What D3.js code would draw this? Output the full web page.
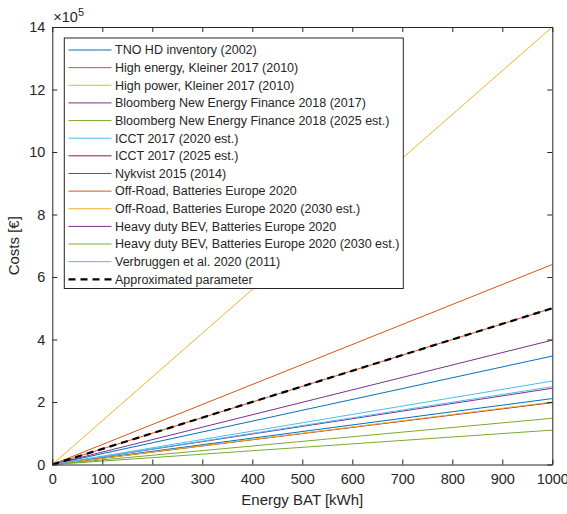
<!DOCTYPE html>
<html>
<head>
<meta charset="utf-8">
<script src="https://cdn.jsdelivr.net/npm/d3@7"></script>
<style>
  body { margin: 0; background: #fff; }
  svg text { font-family: "Liberation Sans", Arial, Helvetica, sans-serif; fill: #262626; }
</style>
</head>
<body>
<svg id="chart" width="567" height="514"></svg>
<script>
// ---- data ----
const seriesNames = [
  "TNO HD inventory (2002)",
  "High energy, Kleiner 2017 (2010)",
  "High power, Kleiner 2017 (2010)",
  "Bloomberg New Energy Finance 2018 (2017)",
  "Bloomberg New Energy Finance 2018 (2025 est.)",
  "ICCT 2017 (2020 est.)",
  "ICCT 2017 (2025 est.)",
  "Nykvist 2015 (2014)",
  "Off-Road, Batteries Europe 2020",
  "Off-Road, Batteries Europe 2020 (2030 est.)",
  "Heavy duty BEV, Batteries Europe 2020",
  "Heavy duty BEV, Batteries Europe 2020 (2030 est.)",
  "Verbruggen et al. 2020 (2011)"
];
// specific cost in €/kWh (cost at 1000 kWh / 1000)
const specificCost = [211, 640, 1400, 244, 110, 249, 198, 347, 500, 200, 398, 148, 267];
const approxName = "Approximated parameter";
const approxCost = 500;
const energy = [0, 1000];               // kWh
const xTicks = [0,100,200,300,400,500,600,700,800,900,1000];
const yTicks = [0,2,4,6,8,10,12,14];    // ×10^5
const colors = ["#0072BD","#D95319","#EDB120","#7E2F8E","#77AC30","#4DBEEE","#A2142F"];

// ---- layout ----
const svg = d3.select("#chart");
const L = 52.3, R = 552.3, T = 27, B = 464.5;
const x = d3.scaleLinear().domain([0, 1000]).range([L, R]);
const y = d3.scaleLinear().domain([0, 14e5]).range([B, T]);
const axisCol = "#262626";

const line = d3.line().x(d => x(d[0])).y(d => y(d[1]));

// data lines
const g = svg.append("g");
seriesNames.forEach((n, i) => {
  g.append("path")
    .datum(energy.map(e => [e, e * specificCost[i]]))
    .attr("d", line)
    .attr("fill", "none")
    .attr("stroke", colors[i % colors.length])
    .attr("stroke-width", 1);
});
g.append("path")
  .datum(energy.map(e => [e, e * approxCost]))
  .attr("d", line)
  .attr("fill", "none")
  .attr("stroke", "#000")
  .attr("stroke-width", 2.2)
  .attr("stroke-dasharray", "7,5");

// axes (inward ticks, box)
const tickLen = 5;
const xAxisB = d3.axisBottom(x).tickValues(xTicks).tickSizeInner(-tickLen).tickSizeOuter(0).tickPadding(9).tickFormat(d3.format("d"));
const xAxisT = d3.axisTop(x).tickValues(xTicks).tickSizeInner(-tickLen).tickSizeOuter(0).tickFormat("");
const yAxisL = d3.axisLeft(y).tickValues(yTicks.map(v => v * 1e5)).tickSizeInner(-tickLen).tickSizeOuter(0).tickPadding(7).tickFormat(v => v / 1e5);
const yAxisR = d3.axisRight(y).tickValues(yTicks.map(v => v * 1e5)).tickSizeInner(-tickLen).tickSizeOuter(0).tickFormat("");

function style(sel) {
  sel.selectAll("path").attr("stroke", axisCol).attr("stroke-width", 1);
  sel.selectAll("line").attr("stroke", axisCol).attr("stroke-width", 1);
  sel.selectAll("text").attr("font-size", 14.5).attr("fill", axisCol)
     .style("font-family", '"Liberation Sans", Arial, sans-serif');
}
svg.append("g").attr("transform", `translate(0,${B})`).call(xAxisB).call(style);
svg.append("g").attr("transform", `translate(0,${T})`).call(xAxisT).call(style);
svg.append("g").attr("transform", `translate(${L},0)`).call(yAxisL).call(style);
svg.append("g").attr("transform", `translate(${R},0)`).call(yAxisR).call(style);

// exponent label
const ex = svg.append("text").attr("x", L + 1).attr("y", 22).attr("font-size", 14.5);
ex.append("tspan").text("×10");
ex.append("tspan").attr("font-size", 11).attr("dy", -6).text("5");

// axis labels
svg.append("text").attr("x", (L + R) / 2).attr("y", 505).attr("text-anchor", "middle")
  .attr("font-size", 15).text("Energy BAT [kWh]");
svg.append("text").attr("transform", `translate(19,${(T + B) / 2}) rotate(-90)`)
  .attr("text-anchor", "middle").attr("font-size", 15).text("Costs [€]");

// legend
const lg = svg.append("g");
const lx = 64.3, ly = 38, lw = 339, lh = 250.5;
lg.append("rect").attr("x", lx).attr("y", ly).attr("width", lw).attr("height", lh)
  .attr("fill", "#fff").attr("stroke", axisCol).attr("stroke-width", 1);
const allNames = seriesNames.concat([approxName]);
const rowY0 = 50, rowStep = 17.64;
allNames.forEach((n, i) => {
  const yy = rowY0 + i * rowStep;
  const isApprox = i === seriesNames.length;
  lg.append("line").attr("x1", 68.5).attr("x2", 111.5).attr("y1", yy).attr("y2", yy)
    .attr("stroke", isApprox ? "#000" : colors[i % colors.length])
    .attr("stroke-width", isApprox ? 2.2 : 1)
    .attr("stroke-dasharray", isApprox ? "7,5" : null);
  lg.append("text").attr("x", 115).attr("y", yy + 4.3).attr("font-size", 12.5).text(n);
});
</script>
</body>
</html>
